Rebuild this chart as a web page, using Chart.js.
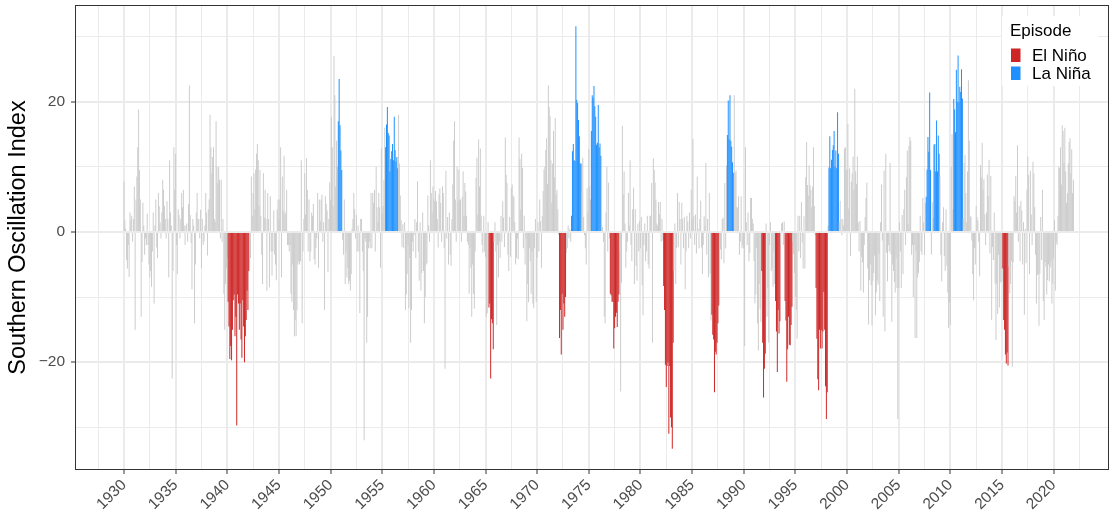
<!DOCTYPE html>
<html>
<head>
<meta charset="utf-8">
<script src="https://cdn.jsdelivr.net/npm/chart.js@4.4.1/dist/chart.umd.min.js"></script>
<style>
  html, body { margin: 0; padding: 0; background: #ffffff; }
  #grafico { display: block; }
</style>
</head>
<body>
<canvas id="grafico" width="1120" height="524"></canvas>
<script>
// Monthly SOI, one row per year (Jan..Dec), starting in firstYear
var firstYear = 1930;
var soi = [
  /*1930*/ 7.7, 1.8, 0.5, -4.3, -5.6, -2.0, -6.9, 3.0, 1.8, 2.5, -1.5, 2.0,
  /*1931*/ 7.0, -15.0, 5.0, 8.5, 13.0, 18.8, 9.5, 5.0, -13.0, -4.6, 4.5, 1.0,
  /*1932*/ -3.5, -1.0, -2.0, 2.8, -2.0, -5.0, -7.0, -6.0, -8.4, -3.0, 3.0, -11.0,
  /*1933*/ 1.0, 5.0, -2.4, -4.0, 6.0, 4.0, 1.5, -1.0, 3.0, 8.0, 6.5, 4.0,
  /*1934*/ 2.0, -1.0, 4.7, 2.0, -7.0, 11.0, 3.0, 1.0, -22.5, -6.0, 13.0, 6.5,
  /*1935*/ 12.0, -2.0, -6.5, 3.5, 2.6, -1.0, 2.0, 6.0, 3.8, 6.5, 1.0, -2.0,
  /*1936*/ 1.0, 1.3, -1.5, 4.3, 22.5, 2.6, -1.7, -8.8, 2.0, 1.0, -14.0, -5.0,
  /*1937*/ 3.0, 6.0, 2.0, 2.0, -1.0, 3.4, -5.6, 2.0, -2.0, -1.5, 1.0, 6.0,
  /*1938*/ 3.0, -3.6, 3.5, 5.0, 18.0, 13.0, 9.0, 11.5, 13.0, 2.0, 1.6, 17.0,
  /*1939*/ 10.0, 7.5, 10.0, 8.0, -1.0, 8.0, -1.5, 2.0, -9.5, -15.0, -8.0, -5.6,
  /*1940*/ -4.0, -10.7, -14.5, -19.5, -17.5, -19.7, -15.0, -10.5, -9.6, -16.0, -13.0, -29.7,
  /*1941*/ -9.6, -11.0, -15.0, -11.0, -16.5, -19.3, -10.5, -14.5, -20.0, -16.0, -13.5, -9.0,
  /*1942*/ -12.0, -6.0, -5.6, -4.0, 8.5, 2.5, 6.0, 9.0, 3.5, 9.6, 12.0, 13.5,
  /*1943*/ 11.0, 4.0, 9.5, 2.5, -3.5, -8.0, 9.0, 2.2, 6.5, 2.0, -9.0, 6.0,
  /*1944*/ 2.0, -8.5, 5.5, -3.0, -6.7, -3.0, 3.3, -3.5, -5.0, -7.4, 3.5, 5.0,
  /*1945*/ 2.0, 5.0, 13.0, -7.0, 8.5, 3.3, 11.7, 2.7, 3.0, 6.5, -2.0, -2.0,
  /*1946*/ -3.0, -2.0, -9.5, -10.7, -5.0, -12.0, -16.0, -13.5, -16.0, -12.0, -5.0, -4.5,
  /*1947*/ -5.0, -4.5, 11.0, -14.0, -3.0, 2.0, 9.0, 2.7, 11.3, 6.5, -3.0, 5.0,
  /*1948*/ -4.5, -3.0, 3.0, 2.5, 4.3, -4.2, -5.0, -2.5, -1.0, 6.0, -5.5, 5.0,
  /*1949*/ 1.7, 5.0, 5.7, -1.5, 1.5, -12.0, 5.5, 4.3, 3.3, -6.2, 2.0, 7.6,
  /*1950*/ 5.0, 17.6, 13.0, 4.0, 27.0, 21.0, 7.0, 14.0, 10.0, 17.0, 23.5, 16.4,
  /*1951*/ 12.5, 9.5, -1.2, -3.5, 5.0, -8.0, -3.0, -7.0, -5.5, -8.0, -7.5, -9.0,
  /*1952*/ -6.5, 0.5, 2.0, 6.0, 3.5, -1.0, 2.6, -3.0, 1.0, -3.0, -12.5, 2.0,
  /*1953*/ 2.0, -3.0, -6.0, -32.0, -1.0, -1.5, -17.0, -13.0, -2.5, -1.5, -2.5, 6.0,
  /*1954*/ -2.5, 6.0, 4.5, 6.5, -3.0, 10.0, 3.8, 1.5, 6.0, 3.8, -5.5, 12.8,
  /*1955*/ 2.8, 4.0, 8.0, 16.0, 13.0, 16.5, 19.2, 15.2, 14.8, 9.3, 11.2, 12.4,
  /*1956*/ 13.5, 11.0, 17.7, 12.6, 10.8, 11.5, 9.8, 18.0, 10.5, 5.6, 1.8, -2.3,
  /*1957*/ 1.2, -2.5, 1.5, -12.0, -9.6, -6.5, -2.0, -11.7, -4.0, -17.0, -12.0, -1.5,
  /*1958*/ -3.0, -0.5, 2.0, -4.0, 1.5, 7.8, -3.0, -7.5, 1.5, -9.0, -6.3, 3.0,
  /*1959*/ -6.0, -14.0, -10.0, -5.0, -4.8, 5.6, 1.0, -1.5, 11.0, 6.0, 3.0, 7.0,
  /*1960*/ 5.0, 4.7, 6.3, 4.7, 2.0, -2.4, 5.8, 6.7, 4.5, -1.5, 7.0, 6.0,
  /*1961*/ -2.5, -21.0, 9.4, -1.0, 2.3, -5.0, 3.0, -3.5, -5.2, 2.0, 7.3, 14.0,
  /*1962*/ 17.0, 5.0, -1.5, 10.0, 4.8, 9.6, 5.0, 5.0, -1.5, 5.4, 9.3, 2.5,
  /*1963*/ 7.5, 6.2, 2.5, -1.5, -2.0, -9.5, -2.5, -5.5, -13.0, -5.0, -9.5, -11.8,
  /*1964*/ -3.0, 8.3, 11.4, 2.7, 14.2, 7.0, 12.8, 2.5, -2.0, -3.2, 2.5, -3.0,
  /*1965*/ -3.8, -13.0, -12.5, 1.5, -11.6, -11.0, -22.5, -13.4, -14.0, -18.0, -1.5, 1.5,
  /*1966*/ -3.0, -14.3, -2.0, -7.0, -1.5, -4.0, 2.5, -1.5, 4.7, 2.2, -2.3, 14.5,
  /*1967*/ 8.8, 7.5, -3.5, -6.0, 2.3, -3.8, 6.7, 7.3, 5.6, 5.4, 1.5, -5.0,
  /*1968*/ -4.0, -1.0, -4.2, 14.5, 11.2, 3.5, 12.0, 9.8, -2.5, 2.5, -5.0, -1.0,
  /*1969*/ -13.7, -8.0, -10.8, -2.5, -4.5, -9.5, -3.0, -11.0, -11.7, -2.5, 2.0, -10.7,
  /*1970*/ -4.0, 1.5, -3.0, 5.0, 1.7, -5.5, 2.5, 6.3, 9.6, 10.0, 12.6, 14.4,
  /*1971*/ 7.4, 22.5, 19.2, 17.8, 11.0, 4.5, 10.5, 15.5, 8.4, 17.5, 5.7, 6.5,
  /*1972*/ 3.5, -0.5, -16.3, -12.0, -18.8, -9.5, -15.0, -11.0, -13.0, -10.0, -3.2, -2.5,
  /*1973*/ 1.0, -1.0, 0.5, -1.5, 2.5, 12.4, 13.5, 11.0, 10.9, 31.6, 20.3, 19.8,
  /*1974*/ 17.2, 14.7, 10.5, 10.5, 6.0, 11.4, 2.3, -0.5, -2.5, -5.0, 6.7, 3.0,
  /*1975*/ 12.7, 7.0, 5.0, 15.5, 21.0, 20.6, 22.4, 19.3, 17.7, 13.4, 13.7, 19.5,
  /*1976*/ 13.0, 13.6, 11.7, 1.0, 0.7, -1.5, -13.0, -14.0, 3.0, 10.0, -3.0, 7.6,
  /*1977*/ -1.0, -9.5, -9.7, -10.7, -10.7, -17.9, -14.8, -13.0, -12.4, -14.6, -10.7, -9.6,
  /*1978*/ -3.0, -24.5, -7.8, 16.3, 5.8, 9.3, 1.3, -5.5, -3.0, -1.5, 6.0, 1.0,
  /*1979*/ 11.0, -2.0, -4.5, 3.5, 6.8, -8.0, 3.5, -5.2, -7.5, 1.3, -3.0, 1.7,
  /*1980*/ -2.5, 2.3, -8.2, -12.8, -2.0, 1.3, -4.5, -3.0, 2.5, -5.0, -5.6, 2.5,
  /*1981*/ 2.5, 7.5, -17.0, 11.3, 9.5, 7.6, 5.0, 1.3, 1.0, 4.6, 2.7, 4.6,
  /*1982*/ -1.5, 2.0, -1.3, -8.3, -12.0, -20.4, -23.8, -20.6, -20.0, -31.0, -20.6, -28.5,
  /*1983*/ -30.0, -33.3, -17.0, -6.0, 1.3, -8.0, -2.5, 6.0, -2.3, 4.6, 2.0, -5.0,
  /*1984*/ 4.5, 2.0, -2.5, 2.3, -8.8, -3.0, 2.5, 1.6, -2.5, 3.0, -1.0, 6.5,
  /*1985*/ 2.0, 14.3, 2.5, -2.0, 2.7, -3.3, 8.5, 0.5, -2.5, 2.0, 4.8, -2.4,
  /*1986*/ -6.5, -2.0, 2.4, 1.0, 10.6, -3.5, 2.0, -7.0, 6.0, -6.4, -13.6, -12.7,
  /*1987*/ -15.8, -16.5, -24.6, -18.4, -18.8, -17.0, -14.0, -11.3, -1.0, -2.7, -4.2, 2.0,
  /*1988*/ 2.2, -4.8, 7.5, -2.5, 10.2, 14.9, 20.2, 14.2, 21.0, 14.0, 13.1, 10.7,
  /*1989*/ 9.1, 21.0, 9.0, 9.4, 3.8, 3.8, 5.5, -3.5, -1.5, 5.5, -2.5, -2.0,
  /*1990*/ -2.5, -17.5, 13.0, 1.5, -2.0, 3.0, -4.5, -3.2, 5.2, 5.2, 2.0, 1.3,
  /*1991*/ -4.5, -11.0, -9.6, -2.5, -14.0, -18.2, -8.0, -11.8, -13.8, -6.0, -17.0, -25.4,
  /*1992*/ -21.0, -18.7, 1.3, -13.0, -8.6, -17.0, -2.0, 1.5, -6.0, -5.6, -8.4, -3.0,
  /*1993*/ -8.0, -10.6, -15.3, -21.5, -12.0, -15.6, -13.7, -2.0, 1.3, 1.5, -2.0, 1.6,
  /*1994*/ -10.6, -13.6, -23.0, -18.0, -13.0, -17.3, -17.4, -14.3, -11.5, -1.5, -3.4, -6.3,
  /*1995*/ -10.0, -12.0, -16.4, 2.5, -3.0, 2.5, -4.0, 4.6, -1.6, -5.6, 2.4, -5.6,
  /*1996*/ 8.4, 13.8, 7.2, 5.6, 10.2, 7.2, 6.5, 3.8, 7.0, 13.0, 4.0, -0.5,
  /*1997*/ -8.6, -16.4, -22.6, -24.3, -15.0, -17.9, -15.1, -17.9, -15.3, -9.2, -15.0, -23.7,
  /*1998*/ -28.7, -24.6, 1.0, 9.9, 14.7, 9.8, 11.1, 12.6, 13.3, 15.5, 10.0, 12.5,
  /*1999*/ 9.8, 18.4, 12.0, 1.5, 4.8, 2.0, -0.5, 2.0, 1.0, 12.8, 13.0, 9.5,
  /*2000*/ 9.5, 16.6, 3.6, 9.8, -3.7, 7.7, 9.0, 11.6, 6.5, 22.0, 9.3, 7.4,
  /*2001*/ 11.6, 1.5, -3.0, 1.7, -9.0, -3.8, -4.7, -9.3, -2.0, 2.3, 5.2, 7.6,
  /*2002*/ -5.6, -14.2, -7.4, -5.0, -8.2, -14.4, -7.5, -6.3, -3.6, -12.8, -9.3, -7.4,
  /*2003*/ -8.1, -3.3, -10.6, 1.5, 7.3, -1.3, -13.0, 9.4, -15.3, 12.0, -3.2, -7.6,
  /*2004*/ -2.0, -3.0, 10.6, -3.4, -13.8, -5.0, -6.0, -7.7, -9.3, -4.0, -8.6, -28.7,
  /*2005*/ -8.6, 1.5, -3.0, -8.6, 2.6, -6.5, 3.5, 6.5, -2.0, 8.4, 12.5, 1.2,
  /*2006*/ 13.2, 14.6, 14.0, -3.5, -2.0, -10.0, -2.0, -16.3, -3.0, -16.3, -7.0, -6.3,
  /*2007*/ -4.6, 2.5, -3.0, -3.5, 5.2, 1.5, -3.5, 4.5, 5.4, 9.6, 14.6, 12.3,
  /*2008*/ 21.4, 9.5, -3.5, 4.6, 2.2, 13.4, 13.5, 9.3, 17.1, 9.3, 14.8, 12.0,
  /*2009*/ 8.5, -3.5, -7.6, 1.5, 3.8, -3.7, -6.0, 3.5, -5.2, -9.3, -14.7, -10.8,
  /*2010*/ -14.3, 10.0, 15.0, 3.5, 20.4, 18.8, 15.3, 24.9, 20.0, 27.1, 19.9, 22.3,
  /*2011*/ 21.5, 25.0, 20.5, 2.0, 10.6, 11.8, 6.0, 1.5, 9.3, 23.3, 14.0, 2.5,
  /*2012*/ 2.3, -1.3, -6.5, -10.5, -2.5, -5.0, 4.0, 2.3, 1.8, -1.5, -6.8, 10.3,
  /*2013*/ 8.4, 13.7, 6.5, 8.1, 2.7, -2.0, 3.0, 8.8, 5.5, 11.1, -3.3, 8.6,
  /*2014*/ -13.5, -2.3, -4.3, 3.0, -7.9, -16.6, -8.0, -12.6, -3.5, -11.6, -7.8, -5.6,
  /*2015*/ -7.6, -5.6, -13.5, -15.0, -18.8, -20.2, -18.5, -20.5, -5.3, -9.4, -8.0, -4.5,
  /*2016*/ -20.7, -4.7, 5.5, 4.7, 8.6, 3.0, 13.3, -1.5, 4.0, -4.5, 4.8, 3.3,
  /*2017*/ -5.0, 1.5, -12.7, 0.5, -4.8, 6.5, 11.6, 8.8, -6.5, 9.4, 2.7, -2.0,
  /*2018*/ 10.8, 9.0, 3.8, -3.5, -11.0, -6.6, -6.5, -14.4, -6.4, 2.3, -4.3, 6.5,
  /*2019*/ -10.6, -13.5, -4.6, -5.3, -9.6, -7.4, -5.0, -7.6, -5.4, -4.5, -11.0, -8.0,
  /*2020*/ -4.0, 1.8, -9.0, -1.6, -2.0, 2.5, 10.0, 9.8, 13.0, 7.3, 16.4, 15.5,
  /*2021*/ 10.6, 16.0, 9.3, 4.5, 6.0, 10.5, 13.8, 14.4, 9.0, 12.7, 6.0, 8.0
];

// Episodes: [start year, start month, end year, end month]
var elNino = [
  [1940, 2, 1942, 2], [1965, 5, 1965, 10], [1972, 3, 1972, 10], [1977, 2, 1977, 12],
  [1982, 4, 1983, 3], [1986, 12, 1987, 8], [1991, 10, 1992, 2], [1993, 2, 1993, 7],
  [1994, 1, 1994, 9], [1997, 1, 1998, 2], [2015, 2, 2015, 8]
];
var laNina = [
  [1950, 10, 1951, 2], [1955, 5, 1956, 7], [1973, 5, 1974, 4], [1975, 4, 1976, 3],
  [1988, 6, 1989, 1], [1998, 4, 1999, 3], [2007, 9, 2008, 2], [2008, 6, 2008, 12],
  [2010, 5, 2011, 3]
];

var yearTicks = [1930, 1935, 1940, 1945, 1950, 1955, 1960, 1965, 1970, 1975,
                 1980, 1985, 1990, 1995, 2000, 2005, 2010, 2015, 2020];
var soiTicks = [-20, 0, 20];
var episodeNames = ['El Niño', 'La Niña'];

var corNeutro = '#CCCCCC';
var corElNino = '#CD2626';
var corLaNina = '#1E90FF';

function indiceMes(ano, mes) {
  return (ano - firstYear) * 12 + (mes - 1);
}

function noPeriodo(lista, i) {
  for (var k = 0; k < lista.length; k++) {
    var p = lista[k];
    if (i >= indiceMes(p[0], p[1]) && i <= indiceMes(p[2], p[3])) return true;
  }
  return false;
}

var pontos = [];
var cores = [];
for (var i = 0; i < soi.length; i++) {
  pontos.push({ x: firstYear + Math.floor(i / 12) + (i % 12) / 12, y: soi[i] });
  if (noPeriodo(elNino, i)) cores.push(corElNino);
  else if (noPeriodo(laNina, i)) cores.push(corLaNina);
  else cores.push(corNeutro);
}

// minor breaks half way between the labelled ones
var xGrade = [];
for (var j = 0; j < yearTicks.length; j++) {
  xGrade.push(yearTicks[j] - 2.5, yearTicks[j]);
}
xGrade.push(yearTicks[yearTicks.length - 1] + 2.5);
var yGrade = [-30, -20, -10, 0, 10, 20, 30];

function ehMaior(lista, v) {
  return lista.indexOf(v) !== -1;
}

Chart.defaults.font.family = "'Liberation Sans', Arial, Helvetica, sans-serif";

var moldura = {
  id: 'moldura',
  afterDraw: function (chart) {
    var c = chart.ctx;
    var a = chart.chartArea;
    c.save();
    // legend inside the panel, top right
    var lx = a.right - 99;
    var ly = a.top + 11;
    c.fillStyle = '#ffffff';
    c.fillRect(lx - 8, ly, 96, 70);
    c.fillStyle = '#000000';
    c.font = "17px 'Liberation Sans', Arial, sans-serif";
    c.textBaseline = 'middle';
    c.textAlign = 'left';
    c.fillText('Episode', lx, ly + 15.5);
    var chaves = [corElNino, corLaNina];
    for (var k = 0; k < chaves.length; k++) {
      var ky = ly + 32.5 + k * 18;
      c.fillStyle = chaves[k];
      c.fillRect(lx + 1, ky, 9.5, 13.5);
      c.fillStyle = '#000000';
      c.fillText(episodeNames[k], lx + 22, ky + 7.5);
    }
    // panel border
    c.strokeStyle = '#333333';
    c.lineWidth = 1;
    c.strokeRect(a.left + 0.5, a.top + 0.5, a.right - a.left - 1, a.bottom - a.top - 1);
    c.restore();
  }
};

var ctx = document.getElementById('grafico').getContext('2d');
var grafico = new Chart(ctx, {
  type: 'bar',
  data: {
    datasets: [{
      label: 'SOI',
      data: pontos,
      backgroundColor: cores,
      borderWidth: 0,
      barPercentage: 1.15,
      categoryPercentage: 1
    }]
  },
  options: {
    responsive: false,
    animation: false,
    layout: { padding: { top: 5, right: 11, left: 0, bottom: 0 } },
    plugins: {
      legend: { display: false },
      tooltip: { enabled: false }
    },
    scales: {
      x: {
        type: 'linear',
        min: 1925.26,
        max: 2025.36,
        offset: false,
        afterBuildTicks: function (scale) {
          scale.ticks = xGrade.map(function (v) { return { value: v }; });
        },
        afterFit: function (scale) {
          scale.height = 54;
          scale.paddingLeft = 0;
          scale.paddingRight = 0;
        },
        border: { display: false },
        grid: {
          offset: false,
          color: '#EBEBEB',
          lineWidth: function (c) { return c.tick && ehMaior(yearTicks, c.tick.value) ? 2 : 1; },
          tickColor: function (c) { return c.tick && ehMaior(yearTicks, c.tick.value) ? '#333333' : 'rgba(0,0,0,0)'; },
          tickLength: 4,
          tickWidth: 1
        },
        ticks: {
          autoSkip: false,
          minRotation: 45,
          maxRotation: 45,
          padding: 2,
          color: '#4D4D4D',
          font: { size: 15.5 },
          callback: function (v) { return ehMaior(yearTicks, v) ? String(v) : ''; }
        }
      },
      y: {
        min: -36.55,
        max: 34.85,
        afterBuildTicks: function (scale) {
          scale.ticks = yGrade.map(function (v) { return { value: v }; });
        },
        afterFit: function (scale) {
          scale.width = 75;
          scale.paddingTop = 0;
          scale.paddingBottom = 0;
        },
        border: { display: false },
        grid: {
          color: '#EBEBEB',
          lineWidth: function (c) { return c.tick && ehMaior(soiTicks, c.tick.value) ? 2 : 1; },
          tickColor: function (c) { return c.tick && ehMaior(soiTicks, c.tick.value) ? '#333333' : 'rgba(0,0,0,0)'; },
          tickLength: 4,
          tickWidth: 1
        },
        ticks: {
          padding: 6,
          color: '#4D4D4D',
          font: { size: 15.5 },
          callback: function (v) {
            if (!ehMaior(soiTicks, v)) return '';
            return v < 0 ? '\u2212' + Math.abs(v) : String(v);
          }
        },
        title: {
          display: true,
          text: 'Southern Oscillation Index',
          color: '#000000',
          font: { size: 23.5 },
          padding: { top: 4, bottom: 0 }
        }
      }
    }
  },
  plugins: [moldura]
});
</script>
</body>
</html>
